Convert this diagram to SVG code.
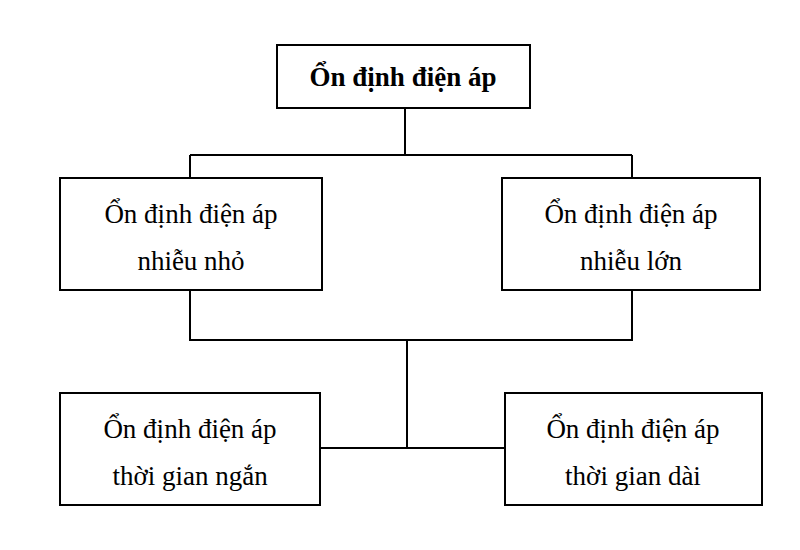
<svg xmlns="http://www.w3.org/2000/svg" width="800" height="550" viewBox="0 0 800 550">
<style>
.box{fill:#fff;stroke:#000;stroke-width:2}
.ln{stroke:#000;stroke-width:2;fill:none}
text{font-family:"Liberation Serif","Times New Roman",serif;font-size:27px;text-anchor:middle;fill:#000}
.b{font-weight:bold}
</style>
<rect width="800" height="550" fill="#fff"/>
<g id="connectors">
<path class="ln" d="M405 108V155M190 155H632M190 155V178M632 155V178"/>
<path class="ln" d="M190 290V340H632V290M407 340V448M320 448H505"/>
</g>
<g id="root"><rect class="box" x="277" y="45" width="253" height="63"/><text class="b" x="403" y="86">Ổn định điện áp</text></g>
<g id="small"><rect class="box" x="60" y="178" width="262" height="112"/><text x="191" y="223">Ổn định điện áp</text><text x="191" y="270">nhiễu nhỏ</text></g>
<g id="large"><rect class="box" x="502" y="178" width="258" height="112"/><text x="631" y="223">Ổn định điện áp</text><text x="631" y="270">nhiễu lớn</text></g>
<g id="short"><rect class="box" x="60" y="393" width="260" height="112"/><text x="190" y="438">Ổn định điện áp</text><text x="190" y="485">thời gian ngắn</text></g>
<g id="long"><rect class="box" x="505" y="393" width="257" height="112"/><text x="633" y="438">Ổn định điện áp</text><text x="633" y="485">thời gian dài</text></g>
</svg>
